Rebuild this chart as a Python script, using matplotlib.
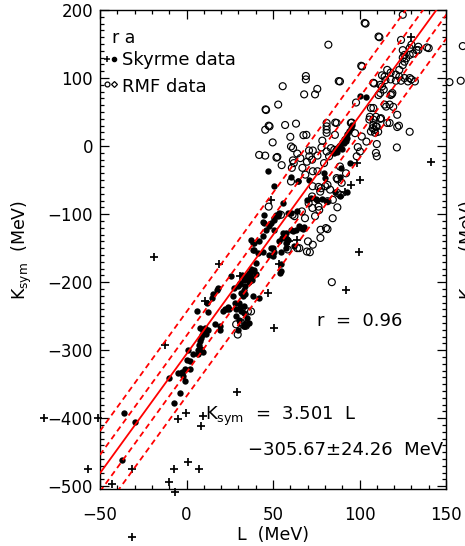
import numpy as np
import matplotlib
matplotlib.use("Agg")
import matplotlib.pyplot as plt
from matplotlib.ticker import MultipleLocator

plt.rcParams['font.family'] = ['DejaVu Sans']
plt.rcParams['mathtext.fontset'] = 'dejavusans'

# ---------------- data (L, Ksym) in MeV ----------------
skyrme_circles = [
    (100.3, 74), (104, 72),
    (85, -10), (86, -6), (87, -3), (88, 0), (89, 2), (90, 6), (91, 10), (92, 14), (93, 18), (94, 22),
    (95, 27), (95.5, 31), (87, -8), (89, -1), (91, 4), (93, 12), (90, -5), (92, 8),
    (46.9, -37), (50.4, -58), (60.4, -45), (64.2, -52), (64.7, -51), (71, -49.5), (79.6, -40), (80.2, -47),
    (94.3, -25), (89.3, -32), (88.7, -45), (85.8, -67), (88.7, -74), (78.3, -78), (75.7, -79),
    (55.6, -84), (60.4, -98), (58.5, -98), (63.9, -96), (69.7, -79), (72, -76.5), (74.9, -78), (81.5, -80),
    (65.2, -118), (66.2, -120.5), (67.2, -122), (68, -119), (60.4, -123), (61.4, -125), (55.6, -128),
    (56.6, -133), (57.6, -135), (58.5, -138), (57.6, -150), (54.6, -184), (92.7, -68),
    (45, -101), (44, -111), (45, -113), (49, -113), (50.8, -106), (52.7, -103), (57.6, -128), (50.8, -123),
    (37.3, -138), (38.2, -142), (42, -140), (44, -155), (38.2, -152), (49.8, -150), (54.6, -155),
    (62.3, -147), (54, -186),
    (31.8, -189), (33.7, -191), (36, -195), (33, -197), (31, -202), (37, -193), (38, -197), (29.6, -206),
    (31.5, -216), (32.5, -221), (38.2, -221), (42, -223), (30.5, -230), (33.4, -235), (28.6, -240),
    (31.5, -243), (28.6, -250), (30.5, -255), (26.7, -221), (25.7, -191),
    (46, -123), (47.5, -118), (50.5, -108), (52, -102), (53.5, -98), (44.5, -132),
    (39.2, -142), (39.2, -152), (41.1, -157), (40.1, -172), (48.9, -150), (50.8, -155), (49.8, -162),
    (47.9, -160), (53.4, -140), (55.4, -135), (57.3, -142), (63.3, -123), (54.6, -174),
    (35.4, -190), (37.3, -185), (39.2, -182), (36, -200), (34, -205), (40, -188), (18, -209), (27.7, -209),
    (17.5, -212), (15.5, -218), (14.5, -223), (12.5, -244), (5.9, -243), (16.5, -262), (19.4, -265),
    (23.2, -240), (21.3, -243), (7.8, -267), (10.8, -267), (9.8, -272), (9, -277), (8.5, -282), (8, -287),
    (7.5, -292), (8.2, -298), (9.3, -302), (6.8, -306), (3.9, -306), (0, -314), (-0.9, -328), (-2.8, -333),
    (-4.7, -333), (-0.9, -345), (-10, -341), (-3.8, -363), (11.6, -231), (24.7, -240), (19.4, -270),
    (22.3, -240), (24.2, -237), (28, -230), (31, -237), (33, -245), (35, -253), (36, -260), (33, -265),
    (30, -270), (31, -201), (33, -211), (34, -218), (35, -196), (36, -186), (37, -181), (12.5, -270),
    (11, -276), (6.7, -299), (1, -299), (2, -316), (2, -328), (-1.8, -338),
    (-2.4, -332), (-7.2, -378), (-36, -392), (-29.5, -405), (-37, -461),
]

skyrme_plus = [
    (129.5, 161), (141.5, -23.6), (98.4, -25), (100.3, -49.5), (95, -57), (91.7, -67.6), (63.9, -138),
    (99.7, -156), (92.2, -212), (59.4, -140), (48.9, -79), (53.4, -174), (46.9, -216), (35.4, -262),
    (50.4, -267), (29, -361), (-19, -163), (18.8, -174), (-12.4, -292), (10.7, -228), (30.9, -191),
    (34.4, -262), (-0.5, -392), (-4.7, -401), (9.7, -397), (8.2, -412), (-31.6, -474),
    (-42.9, -496), (-7.2, -474), (1, -465), (7.2, -474), (-10.1, -493), (-6.6, -508), (-31.6, -575),
    (-82.6, -400), (-51, -400), (-57, -475),
]

rmf_circles = [
    (125, 193), (103, 181), (103.5, 180), (111, 161), (111.5, 160), (124, 156), (130, 149), (140, 144),
    (134, 141), (125, 141), (126, 134), (125, 130), (82, 149), (101, 118), (101.5, 117),
    (129, 144), (133, 141), (134, 146), (139, 145), (131, 136), (129, 134), (127, 129), (126, 124),
    (116, 112), (118, 108), (121, 105), (123, 102), (126, 100), (118, 98), (121, 96), (124, 96), (128, 95),
    (113, 104), (115, 97), (130, 98), (132, 95), (114.5, 102), (125, 119), (123, 112),
    (112, 90), (113, 87.5), (129, 100), (118, 75), (119, 78), (111, 75), (112, 78), (114, 83), (118.6, 76),
    (108, 93), (108.5, 92), (88.7, 95), (88, 95.5), (69, 103), (69, 98), (55.6, 88), (75.6, 84), (74.3, 76),
    (68, 76), (98, 64),
    (45.7, 54), (46, 53), (53, 61), (114.5, 61), (115.4, 58), (117.4, 61), (119.5, 57.6), (108, 56), (106.6, 56),
    (106, 43), (108, 39), (110, 28.5), (110.8, 21), (109, 19.5), (108, 31), (112, 40), (121.8, 46), (116, 34),
    (112.4, 41), (117.4, 34), (122.8, 30), (121.8, 28), (129, 21), (107.6, 26.4), (108.6, 24),
    (106.6, 21.5), (109.5, 29), (105.7, 39), (109.5, 43),
    (48, 29), (47.5, 30), (57, 31), (63.3, 33), (60, 13.6), (69.3, 16.5), (49.8, 5.4), (45.5, 24),
    (81, 34), (81, 29), (81, 24), (81, 19.5), (86.8, 34), (86, 34.5), (85.8, 16.5), (95, 34), (95.5, 34.5),
    (97.4, 19), (101.3, 14), (104, 6.6), (110, 3), (121.6, -2),
    (60.4, -0.6), (61.6, -3), (70.8, -6.5), (67.6, 16), (78, -2), (78.5, 8), (81, -8), (82.4, -15),
    (42, -13), (45.5, -14), (52.5, -16), (52, -17), (64, -11), (55, -28), (61.5, -21), (62, -25), (71, -15),
    (75.7, -14), (79.5, -25), (83.5, -3), (85.4, -5.5), (99, -1.5), (100.3, -8), (98.4, -15), (109.5, -10),
    (110, -15), (65.8, -17.7), (72.6, -20), (73, -6.5), (60.9, -32), (67, -32), (69.6, -23), (75.7, -37),
    (88.7, -30), (68.7, -42), (73, -37),
    (76.3, -60), (80.2, -59), (77.3, -67), (83, -64), (86.8, -47), (89.7, -54), (84.6, -79), (76.3, -89),
    (70.6, -84), (47.5, -89), (60.4, -52), (72.9, -59), (77.7, -62), (81.5, -57), (87.3, -49), (92.2, -40),
    (54.6, -101), (61.3, -101), (66.7, -96), (72.8, -91), (76.7, -94), (81.5, -81), (87.2, -90),
    (74.3, -103), (84.5, -106), (77.5, -123), (80.6, -120.5), (81.5, -122), (70.2, -140), (73, -145),
    (69.6, -155), (64, -150), (58.5, -152), (84, -200), (37.3, -243), (34.4, -264), (29.6, -277),
    (31.5, -259), (72.6, -74), (68.5, -106), (77.4, -135), (71.3, -156), (87.3, -69), (89, -72),
    (62.4, -103), (65.2, -150), (35.5, -243), (28.7, -262), (33.5, -264), (32.5, -262),
    (152, 94), (158.5, 96), (159.7, 147),
]

sky_L, sky_K = np.array(skyrme_circles).T
plus_L, plus_K = np.array(skyrme_plus).T
rmf_L, rmf_K = np.array(rmf_circles).T

# fit Ksym = a L + b
fit_slope = 3.501
fit_intercept = -305.67
band_offsets = [27.0, 62.0]

# ---------------- figure ----------------
W, H = 465, 546
fig = plt.figure(figsize=(W / 100, H / 100), dpi=100)
ax = fig.add_axes([100 / W, 1 - 489 / H, 346 / W, 479 / H])
ax.set_xlim(-50, 150)
ax.set_ylim(-504, 200)


def fpx(x, y):
    return x / W, 1 - y / H


ms_marker = dict(clip_on=False, zorder=3)
ax.scatter(rmf_L, rmf_K, s=25, facecolors='none', edgecolors='black', linewidths=0.85, **ms_marker)
ax.scatter(sky_L, sky_K, s=21, color='black', linewidths=0, **ms_marker)
ax.scatter(plus_L, plus_K, s=26, marker='+', color='black', linewidths=1.25, **ms_marker)

xs = np.array([-60.0, 160.0])
ax.plot(xs, fit_slope * xs + fit_intercept, color='red', lw=1.3, zorder=4)
for d in band_offsets:
    for sgn in (1, -1):
        ax.plot(xs, fit_slope * xs + fit_intercept + sgn * d, color='red', lw=1.3,
                dashes=(3.2, 2.2), zorder=4)

# ticks
ax.xaxis.set_minor_locator(MultipleLocator(10))
ax.yaxis.set_minor_locator(MultipleLocator(10))
ax.set_xticks([-50, 0, 50, 100, 150])
ax.set_yticks([-500, -400, -300, -200, -100, 0, 100, 200])
ax.set_xticklabels(['\u221250', '0', '50', '100', '150'])
ax.set_yticklabels(['\u2212500', '\u2212400', '\u2212300', '\u2212200', '\u2212100', '0', '100', '200'])
ax.tick_params(which='both', direction='in', top=True, right=True, width=0.9)
ax.tick_params(which='major', length=6.5, labelsize=12)
ax.tick_params(axis='x', which='major', pad=12)
ax.tick_params(axis='y', which='major', pad=5)
ax.tick_params(which='minor', length=3.2)
for sp in ax.spines.values():
    sp.set_linewidth(1.0)

# labels
fig.text(*fpx(22, 250), 'K$_{\\mathrm{sym}}$  (MeV)', rotation=90, ha='center', va='center', fontsize=12.5)
fig.text(*fpx(273, 535), 'L  (MeV)', ha='center', va='center', fontsize=12.5)
# partial label of the neighbouring panel, cut by the right edge as in the reference
fig.text(*fpx(470, 250), 'K$_{\\mathrm{sym}}$  (MeV)', rotation=90, ha='center', va='center', fontsize=12.5)

# legend-like annotations
fig.text(*fpx(112, 43), 'r a', ha='left', va='baseline', fontsize=12.5)
fig.text(*fpx(122, 65), 'Skyrme data', ha='left', va='baseline', fontsize=13)
fig.text(*fpx(122, 91.5), 'RMF data', ha='left', va='baseline', fontsize=13)
ax.plot([(107 - 100) / 346], [(489 - 59) / 479], marker='+', ms=4, mew=1.1, color='black',
        transform=ax.transAxes, clip_on=False)
ax.plot([(114 - 100) / 346], [(489 - 59) / 479], marker='o', ms=3, color='black',
        transform=ax.transAxes, clip_on=False)
ax.plot([(107 - 100) / 346], [(489 - 84) / 479], marker='o', ms=3.5, mfc='none', mew=0.9, color='black',
        transform=ax.transAxes, clip_on=False)
ax.plot([(114 - 100) / 346], [(489 - 84) / 479], marker='D', ms=3, mfc='none', mew=0.9, color='black',
        transform=ax.transAxes, clip_on=False)

fig.text(*fpx(317, 326), 'r  =  0.96', ha='left', va='baseline', fontsize=13)
fig.text(*fpx(205, 420), 'K$_{\\mathrm{sym}}$  =  3.501  L', ha='left', va='baseline', fontsize=13)
fig.text(*fpx(248, 455), '\u2212305.67\u00b124.26  MeV', ha='left', va='baseline', fontsize=13)

fig.savefig('out.png', dpi=100)
